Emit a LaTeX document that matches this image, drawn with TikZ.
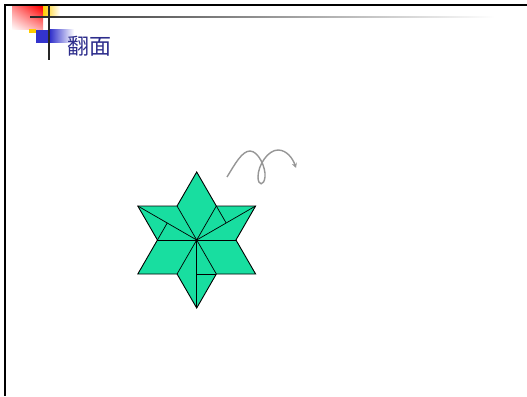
\documentclass[tikz,border=0pt]{standalone}
\usepackage{fontspec}
\newfontfamily\cjk{Noto Sans CJK SC}
\usetikzlibrary{arrows.meta,shadings}
\definecolor{titleblue}{RGB}{45,45,140}
\definecolor{starfill}{RGB}{24,222,160}
\definecolor{decoblue}{RGB}{51,51,204}
\definecolor{decogold}{RGB}{255,204,0}
\definecolor{curlgray}{RGB}{150,150,150}
\tikzset{
  frameline/.style={line width=2pt,black},
  staredge/.style={draw=black,line width=0.9pt,fill=starfill,line join=miter},
  foldline/.style={draw=black,line width=0.7pt},
  curlarrow/.style={draw=curlgray,line width=1.4pt,-{Stealth[length=5pt,width=5pt]}},
}
\begin{document}
\begin{tikzpicture}[x=1pt,y=-1pt]
\useasboundingbox (0,0) rectangle (527,396);
\fill[white] (0,0) rectangle (527,396);

% slide frame
\draw[frameline] (4,5.5) -- (527,5.5);
\draw[frameline] (5,5.5) -- (5,396);

% corner ornament
\shade[upper right=red, upper left=red!45, lower left=white, lower right=red!35] (12,7) rectangle (43,30);
\shade[left color=decogold, right color=white] (43,7) rectangle (60,16);
\fill[decogold] (29,29) rectangle (36,33);
\fill[decoblue] (36,30) rectangle (50,43);
\shade[left color=decoblue, right color=white] (50,30) rectangle (74,43);
\shade[left color=black!85, middle color=black!55, right color=white] (30,16.2) rectangle (495,17.8);
\draw[black!85,line width=1.4pt] (49,5) -- (49,60);

% title
\node[anchor=west,inner sep=0pt,text=titleblue,font=\cjk\fontsize{22}{26}\selectfont] (title) at (67,46) {翻面};

% star geometry (centre, outer tips, inner corners)
\coordinate (c) at (196.7,240);
\coordinate (o90) at (196.7,172);
\coordinate (o150) at (137.8,206);
\coordinate (o210) at (137.8,274);
\coordinate (o270) at (196.7,308);
\coordinate (o330) at (255.6,274);
\coordinate (o30) at (255.6,206);
\coordinate (i0) at (235.96,240);
\coordinate (i60) at (216.33,206);
\coordinate (i120) at (177.07,206);
\coordinate (i180) at (157.44,240);
\coordinate (i240) at (177.07,274);
\coordinate (i300) at (216.33,274);
\coordinate (f30) at (226.18,223);
\coordinate (f150) at (167.22,223);
\coordinate (m270) at (196.7,274);

\path[staredge] (o90) -- (i60) -- (o30) -- (i0) -- (o330) -- (i300) -- (o270)
  -- (i240) -- (o210) -- (i180) -- (o150) -- (i120) -- cycle;

% fold creases
\draw[foldline] (c) -- (i0);
\draw[foldline] (c) -- (i60);
\draw[foldline] (c) -- (i120);
\draw[foldline] (c) -- (i180);
\draw[foldline] (c) -- (i240);
\draw[foldline] (c) -- (i300);
\draw[foldline] (c) -- (o30);
\draw[foldline] (c) -- (o150);
\draw[foldline] (c) -- (o270);
\draw[foldline] (i60) -- (f30);
\draw[foldline] (i180) -- (f150);
\draw[foldline] (m270) -- (i300);
\fill (c) circle (1.2pt);

% turn-over arrow
\coordinate (curlstart) at (227,177);
\coordinate (curlend) at (296,168);
\draw[curlarrow] (curlstart) .. controls (235,164) and (242,151) .. (250,151)
  .. controls (258,151) and (266,167) .. (265,177)
  .. controls (264,186) and (258,186) .. (258,177)
  .. controls (258,165) and (268,150) .. (278,150)
  .. controls (287,150) and (293,159) .. (curlend);
\end{tikzpicture}
\end{document}
